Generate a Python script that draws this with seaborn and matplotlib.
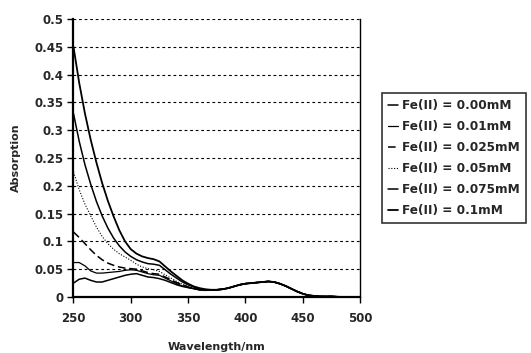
import numpy as np
import pandas as pd
import matplotlib
matplotlib.use("Agg")
import matplotlib.pyplot as plt
import seaborn as sns

# 波长 (nm)
wl_head = [250, 255, 260, 265, 270, 275, 280, 285, 290, 295, 300, 305,
           310, 315, 320, 325, 330, 335, 340, 345, 350, 355, 360, 365]
wl_tail = [370, 375, 380, 385, 390, 395, 400, 405, 410, 415, 420, 425, 430,
           435, 440, 445, 450, 455, 460, 465, 470, 475, 480, 485, 490, 495, 500]

# 各浓度在 250-365nm 的吸收
fe_000 = [0.025, 0.032, 0.034, 0.030, 0.027, 0.027, 0.030, 0.033, 0.036, 0.039, 0.041, 0.042,
          0.039, 0.036, 0.035, 0.033, 0.030, 0.026, 0.022, 0.019, 0.017, 0.015, 0.013, 0.012]
fe_001 = [0.062, 0.062, 0.056, 0.047, 0.043, 0.043, 0.044, 0.045, 0.046, 0.048, 0.049, 0.048,
          0.045, 0.042, 0.040, 0.039, 0.034, 0.029, 0.024, 0.020, 0.017, 0.015, 0.013, 0.012]
fe_0025 = [0.117, 0.107, 0.096, 0.085, 0.075, 0.067, 0.061, 0.057, 0.054, 0.052, 0.051, 0.050,
           0.047, 0.044, 0.042, 0.041, 0.036, 0.031, 0.026, 0.022, 0.018, 0.015, 0.013, 0.012]
fe_005 = [0.225, 0.193, 0.167, 0.146, 0.126, 0.109, 0.096, 0.086, 0.078, 0.072, 0.066, 0.059,
          0.054, 0.051, 0.049, 0.046, 0.040, 0.034, 0.028, 0.023, 0.019, 0.016, 0.014, 0.013]
fe_0075 = [0.330, 0.280, 0.238, 0.203, 0.172, 0.146, 0.124, 0.106, 0.092, 0.081, 0.073, 0.067,
           0.063, 0.060, 0.059, 0.057, 0.049, 0.041, 0.034, 0.027, 0.022, 0.018, 0.015, 0.013]
fe_01 = [0.450, 0.385, 0.330, 0.283, 0.242, 0.205, 0.173, 0.145, 0.120, 0.100, 0.086, 0.078,
         0.073, 0.070, 0.068, 0.064, 0.055, 0.046, 0.038, 0.030, 0.024, 0.019, 0.016, 0.014]

# 370nm 以后各曲线重合
tail = [0.013, 0.013, 0.014, 0.016, 0.019, 0.022, 0.024, 0.025, 0.026, 0.027, 0.028, 0.027, 0.024,
        0.020, 0.015, 0.010, 0.006, 0.003, 0.002, 0.001, 0.001, 0.001, 0.0005, 0, 0, 0, 0]

labels = ["Fe(II) = 0.00mM", "Fe(II) = 0.01mM", "Fe(II) = 0.025mM",
          "Fe(II) = 0.05mM", "Fe(II) = 0.075mM", "Fe(II) = 0.1mM"]
series = [fe_000, fe_001, fe_0025, fe_005, fe_0075, fe_01]

sns.set_style("white")
plt.rcParams['font.family'] = ['DejaVu Sans']
plt.rcParams['font.weight'] = 'bold'

fig = plt.figure(figsize=(5.31, 3.53), dpi=100)
ax = fig.add_axes([0.1384, 0.1586, 0.5395, 0.7875])

styles = [dict(lw=1.1, ls='-'), dict(lw=0.9, ls='-'), dict(lw=1.1, ls=(0, (5, 2.5))),
          dict(lw=0.8, ls=(0, (1, 1.5))), dict(lw=1.1, ls='-'), dict(lw=1.3, ls='-')]

wl = wl_head + wl_tail
for lab, vals, st in zip(labels, series, styles):
    df = pd.DataFrame({'wl': wl, 'abs': vals + tail})
    sns.lineplot(data=df, x='wl', y='abs', ax=ax, color='black', label=lab,
                 linewidth=st['lw'], linestyle=st['ls'])

ax.set_xlim(250, 500)
ax.set_ylim(0, 0.5)
yt = np.arange(0, 0.501, 0.05)
ax.set_yticks(yt)
ax.set_yticklabels(['0'] + ['%g' % round(v, 2) for v in yt[1:]])
ax.set_xticks([250, 300, 350, 400, 450, 500])
for v in yt[1:]:
    ax.axhline(v, color='black', lw=0.8, ls=(0, (2.5, 2.5)), zorder=0)

ax.tick_params(axis='both', direction='out', length=4, width=1, labelsize=8.5, pad=3,
               bottom=True, left=True, color='black')
ax.tick_params(axis='x', pad=7)
for lbl in ax.get_xticklabels() + ax.get_yticklabels():
    lbl.set_fontweight('bold')
ax.spines['left'].set_linewidth(1.6)
ax.spines['bottom'].set_linewidth(1.6)
ax.spines['top'].set_visible(False)
ax.spines['right'].set_linestyle((0, (1.5, 1)))
ax.spines['right'].set_linewidth(1.0)
for s in ax.spines.values():
    s.set_color('black')

ax.set_xlabel('Wavelength/nm', fontsize=8, fontweight='bold', labelpad=12)
ax.set_ylabel('Absorption', fontsize=8, fontweight='bold', labelpad=10)

handles, labs = ax.get_legend_handles_labels()
ax.get_legend().remove()
leg = fig.legend(handles, labs, loc='upper left', bbox_to_anchor=(0.719, 0.737),
                 frameon=True, fancybox=False, handlelength=0.8,
                 handletextpad=0.3, borderpad=0.55, labelspacing=0.65, borderaxespad=0,
                 prop={'weight': 'bold', 'size': 8.7})
leg.get_frame().set_edgecolor('black')
leg.get_frame().set_linewidth(1.2)

fig.savefig('out.png', dpi=100)
